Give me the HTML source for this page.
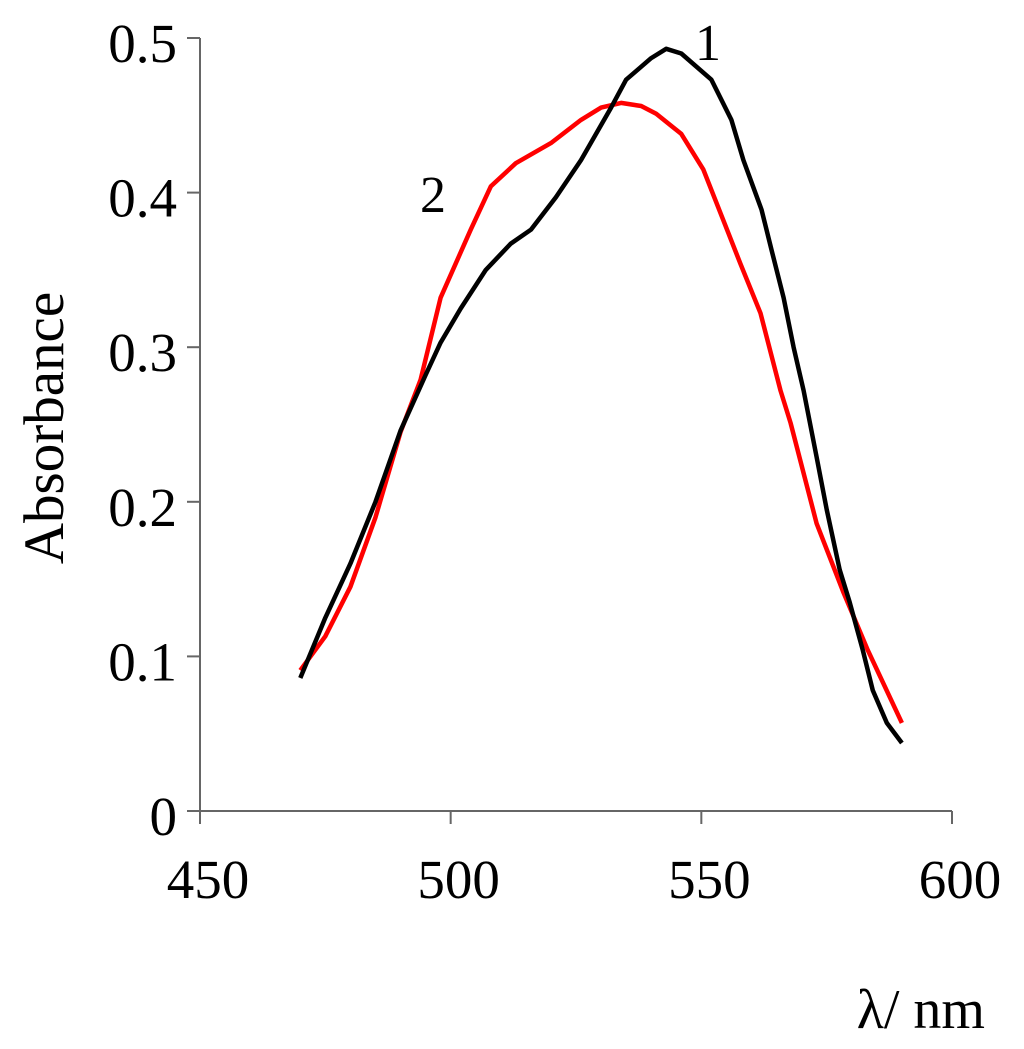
<!DOCTYPE html>
<html><head><meta charset="utf-8"><style>
html,body{margin:0;padding:0;background:#fff}
svg{display:block}
text{font-family:"Liberation Serif",serif;fill:#000}
</style></head><body>
<svg id="chart" width="1024" height="1049" viewBox="0 0 1024 1049" xmlns="http://www.w3.org/2000/svg"></svg>
<script>
const wavelengths=[470,475,480,485,490,495,498,502,507,512,516,521,526,532,535,540,543,546,552,556,558.4,562,564,566.4,568.4,570.4,573,575,577.6,579.6,582.2,584.2,587,590];
const series1=[0.086,0.125,0.16,0.2,0.246,0.282,0.303,0.325,0.35,0.367,0.376,0.397,0.421,0.455,0.473,0.487,0.493,0.49,0.473,0.447,0.421,0.389,0.363,0.332,0.3,0.272,0.229,0.195,0.156,0.135,0.104,0.078,0.057,0.044];
const wavelengths2=[470,475,480,485,490,494,498,504,508,513,520,526,530,534,538,541,546,550.4,554.4,557.8,561.8,565.8,567.8,573,578.4,583.2,590];
const series2=[0.091,0.113,0.145,0.19,0.245,0.279,0.332,0.376,0.404,0.419,0.432,0.447,0.455,0.458,0.456,0.451,0.438,0.415,0.382,0.354,0.322,0.272,0.251,0.186,0.141,0.104,0.057];
const xTicks=[450,500,550,600];
const yTicks=[0,0.1,0.2,0.3,0.4,0.5];
const yTickLabels=["0","0.1","0.2","0.3","0.4","0.5"];

const NS="http://www.w3.org/2000/svg";
const svg=document.getElementById('chart');
const X=v=>200+(v-450)*(752/150);
const Y=v=>811-v*(773/0.5);
function mk(tag,attrs,parent){const e=document.createElementNS(NS,tag);for(const k in attrs)e.setAttribute(k,attrs[k]);(parent||svg).appendChild(e);return e;}

let a=mk('line',{x1:187,y1:811,x2:X(600),y2:811,stroke:'#666','stroke-width':2});


a=mk('line',{x1:200,y1:38,x2:200,y2:811,stroke:'#666','stroke-width':2});



xTicks.forEach(t=>{
 const l=mk('line',{x1:X(t),y1:811,x2:X(t),y2:824,stroke:'#666','stroke-width':2});
 
 
 const tx=mk('text',{x:X(t)+8,y:898,'font-size':55,'text-anchor':'middle'});
 tx.textContent=t;
 
 
});
yTicks.forEach((t,i)=>{
 const l=mk('line',{x1:187,y1:Y(t),x2:200,y2:Y(t),stroke:'#666','stroke-width':2});
 
 
 const tx=mk('text',{x:177,y:Y(t)+24,'font-size':55,'text-anchor':'end'});
 tx.textContent=yTickLabels[i];
 
 
});

function path(xs,ys,color,name){
 const d=xs.map((x,i)=>(i?'L':'M')+X(x).toFixed(1)+' '+Y(ys[i]).toFixed(1)).join(' ');
 const p=mk('path',{d:d,fill:'none',stroke:color,'stroke-width':4.5,'stroke-linejoin':'round'});
 
 
}
path(wavelengths2,series2,'#ff0000','series-2-line');
path(wavelengths,series1,'#000000','series-1-line');

let t=mk('text',{x:708,y:60,'font-size':52,'text-anchor':'middle'});t.textContent='1';


t=mk('text',{x:433,y:212,'font-size':52,'text-anchor':'middle'});t.textContent='2';


t=mk('text',{x:0,y:0,'font-size':57,'text-anchor':'middle',transform:'translate(63,428) rotate(-90)'});t.textContent='Absorbance';


t=mk('text',{x:985,y:1028,'font-size':56,'text-anchor':'end'});t.textContent='λ/ nm';


</script>
</body></html>
